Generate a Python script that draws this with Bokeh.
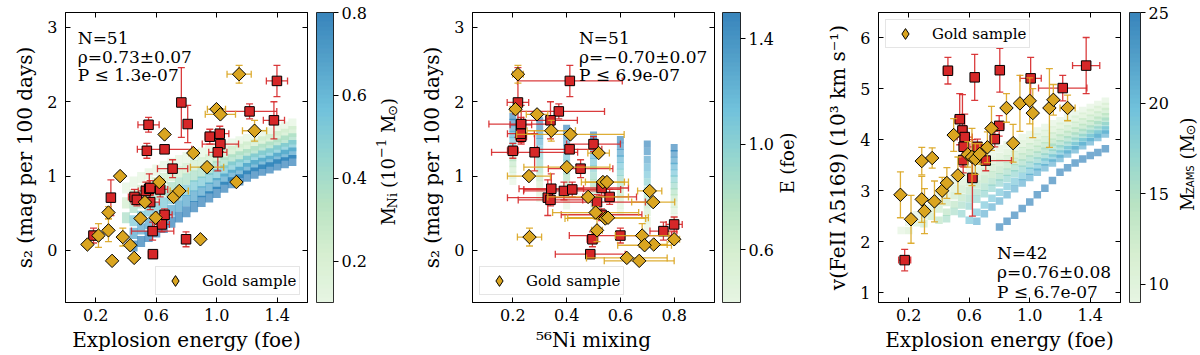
import numpy as np
from bokeh.plotting import figure
from bokeh.models import (ColumnDataSource, LinearColorMapper, ColorBar, LinearAxis, Range1d,
                          FixedTicker, Label, Legend, LegendItem, PrintfTickFormatter)
from bokeh.layouts import row
from bokeh.embed import file_html
from bokeh.resources import INLINE
from bokeh.transform import linear_cmap

# ---------------- data: panels 1 & 2 (N=51) ----------------
gold_energy = [0.145, 0.218, 0.284, 0.284, 0.308, 0.361, 0.379, 0.428, 0.454, 0.496, 0.525, 0.596,
               0.620, 0.655, 0.715, 0.752, 0.845, 0.892, 0.936, 0.998, 1.024, 1.130, 1.148, 1.250]
gold_s2 = [0.08, 0.20, 0.51, 0.27, -0.14, 1.00, 0.18, 0.07, -0.10, 0.43, 0.65, 0.44,
           0.92, 1.56, 0.72, 0.80, 1.31, 0.15, 1.12, 1.90, 1.83, 0.92, 2.37, 1.61]
gold_energy_err = [0.02, 0.03, 0.02, 0.02, 0.02, 0.02, 0.02, 0.02, 0.02, 0.02, 0.02, 0.03,
                   0.03, 0.02, 0.03, 0.06, 0.03, 0.02, 0.11, 0.06, 0.10, 0.02, 0.08, 0.08]
gold_s2_err = [0.03, 0.16, 0.08, 0.15, 0.03, 0.03, 0.12, 0.04, 0.03, 0.03, 0.04, 0.03,
               0.04, 0.04, 0.04, 0.04, 0.03, 0.03, 0.05, 0.04, 0.04, 0.03, 0.12, 0.14]
gold_mixing = [0.724, 0.681, 0.508, 0.513, 0.670, 0.260, 0.262, 0.690, 0.624, 0.544, 0.722, 0.554,
               0.535, 0.414, 0.480, 0.709, 0.519, 0.800, 0.401, 0.210, 0.290, 0.550, 0.219, 0.343]
gold_mixing_err = [0.05, 0.10, 0.16, 0.02, 0.13, 0.08, 0.045, 0.10, 0.15, 0.15, 0.08, 0.15,
                   0.08, 0.20, 0.15, 0.045, 0.04, 0.02, 0.16, 0.02, 0.04, 0.08, 0.02, 0.09]

red_energy = [0.185, 0.300, 0.456, 0.472, 0.531, 0.554, 0.560, 0.549, 0.538, 0.655, 0.626, 0.637, 0.655,
              0.576, 0.578, 0.708, 0.766, 0.808, 0.797, 0.954, 1.020, 1.024, 1.007, 1.217, 1.378, 1.398, 0.560]
red_s2 = [0.20, 0.71, 0.72, 0.68, 0.80, 0.83, 0.65, 1.69, 1.34, 1.36, 0.82, 0.35, 0.48,
          0.26, -0.05, 1.10, 1.99, 1.70, 0.15, 1.53, 1.57, 1.43, 1.32, 1.87, 1.75, 2.28, 0.84]
red_energy_err = [0.03, 0.02, 0.04, 0.04, 0.05, 0.05, 0.06, 0.07, 0.02, 0.18, 0.05, 0.05, 0.05,
                  0.14, 0.03, 0.10, 0.02, 0.02, 0.02, 0.03, 0.06, 0.12, 0.06, 0.18, 0.07, 0.07, 0.04]
red_s2_err = [0.10, 0.24, 0.10, 0.08, 0.12, 0.20, 0.10, 0.10, 0.10, 0.05, 0.10, 0.10, 0.08,
              0.12, 0.04, 0.12, 0.47, 0.25, 0.10, 0.10, 0.10, 0.10, 0.25, 0.10, 0.25, 0.21, 0.10]
red_mixing = [0.600, 0.330, 0.560, 0.340, 0.390, 0.343, 0.513, 0.230, 0.200, 0.411, 0.421, 0.800, 0.530,
              0.760, 0.488, 0.452, 0.219, 0.231, 0.496, 0.231, 0.230, 0.500, 0.281, 0.371, 0.340, 0.412, 0.530]
red_mixing_err = [0.19, 0.15, 0.10, 0.12, 0.15, 0.12, 0.18, 0.04, 0.02, 0.12, 0.18, 0.03, 0.15,
                  0.05, 0.13, 0.12, 0.04, 0.12, 0.02, 0.02, 0.05, 0.10, 0.16, 0.17, 0.10, 0.195, 0.10]

# ---------------- data: panel 3 (N=42) ----------------
vel_gold_energy = [0.145, 0.215, 0.286, 0.355, 0.286, 0.304, 0.370, 0.421, 0.452, 0.525, 0.497, 0.590, 0.618,
                   0.640, 0.669, 0.720, 0.747, 0.846, 0.890, 0.935, 1.000, 1.020, 1.130, 1.156, 1.250]
vel_gold = [2.92, 2.44, 3.58, 3.64, 2.83, 2.60, 2.79, 3.00, 3.15, 3.30, 4.09, 3.71, 3.66,
            3.62, 3.72, 3.85, 4.22, 4.62, 3.93, 4.71, 4.76, 4.52, 4.62, 4.78, 4.62]
vel_gold_energy_err = [0.02, 0.02, 0.02, 0.02, 0.02, 0.02, 0.02, 0.02, 0.02, 0.02, 0.02, 0.02, 0.02,
                       0.02, 0.02, 0.02, 0.02, 0.02, 0.02, 0.02, 0.02, 0.02, 0.02, 0.02, 0.05]
vel_gold_err = [0.45, 0.47, 0.27, 0.20, 0.45, 0.44, 0.40, 0.26, 0.30, 0.36, 0.32, 0.25, 0.56,
                0.30, 0.20, 0.30, 0.43, 0.28, 0.37, 0.55, 0.45, 0.48, 0.77, 0.30, 0.25]

vel_red_energy = [0.173, 0.459, 0.636, 0.802, 1.006, 1.218, 1.373, 0.537, 0.555,
                  0.570, 0.563, 0.654, 0.769, 0.798, 0.621, 0.709, 0.560]
vel_red = [1.64, 5.35, 5.22, 5.36, 5.20, 5.01, 5.45, 4.40, 4.18, 4.05, 3.86, 3.86, 4.01, 4.27, 3.25, 3.59, 3.60]
vel_red_energy_err = [0.04, 0.03, 0.02, 0.02, 0.07, 0.16, 0.09, 0.03, 0.03,
                      0.05, 0.02, 0.05, 0.03, 0.03, 0.03, 0.17, 0.03]
vel_red_err = [0.21, 0.26, 0.45, 0.43, 0.41, 0.25, 0.55, 0.50, 0.70, 0.45, 0.40, 0.15, 0.15, 0.20, 0.75, 0.20, 0.25]

# ---------------- model grids ----------------
grid1_mni = [0.10, 0.24, 0.38, 0.52, 0.66, 0.80]
grid1_energy = [0.40, 0.45, 0.50, 0.55, 0.60, 0.65, 0.70, 0.75, 0.80, 0.85, 0.90, 0.95,
                1.00, 1.05, 1.10, 1.15, 1.20, 1.25, 1.30, 1.35, 1.40, 1.45, 1.50]
grid1_s2 = [
    [0.84, 0.64, 0.44, None, None, None],
    [0.92, 0.75, 0.58, 0.40, 0.23, 0.06],
    [0.98, 0.81, 0.64, 0.46, 0.29, 0.12],
    [1.03, 0.86, 0.69, 0.53, 0.36, 0.19],
    [1.08, 0.91, 0.75, 0.58, 0.42, 0.25],
    [1.13, 0.97, 0.80, 0.64, 0.47, 0.31],
    [1.17, 1.01, 0.85, 0.70, 0.54, 0.38],
    [1.21, 1.06, 0.91, 0.75, 0.60, 0.45],
    [1.25, 1.10, 0.96, 0.81, 0.67, 0.52],
    [1.28, 1.14, 1.00, 0.87, 0.73, 0.59],
    [1.31, 1.18, 1.05, 0.92, 0.79, 0.66],
    [1.34, 1.22, 1.09, 0.97, 0.84, 0.72],
    [1.37, 1.25, 1.13, 1.02, 0.90, 0.78],
    [1.40, 1.29, 1.18, 1.07, 0.96, 0.85],
    [1.43, 1.33, 1.22, 1.12, 1.01, 0.91],
    [1.46, 1.36, 1.26, 1.15, 1.05, 0.95],
    [1.49, 1.39, 1.29, 1.20, 1.10, 1.00],
    [1.52, 1.42, 1.33, 1.23, 1.14, 1.04],
    [1.55, 1.46, 1.36, 1.27, 1.17, 1.08],
    [1.58, 1.49, 1.39, 1.30, 1.20, 1.11],
    [1.62, 1.53, 1.43, 1.34, 1.24, 1.15],
    [1.66, 1.56, 1.47, 1.37, 1.28, 1.18],
    [1.70, 1.60, 1.50, 1.41, 1.31, 1.21],
]
grid2_mixing = [0.2, 0.3, 0.4, 0.5, 0.6, 0.7, 0.8]
grid2_energy = [1.5, 1.4, 1.3, 1.2, 1.1, 1.0, 0.9, 0.8, 0.7, 0.6, 0.5, 0.4]
grid2_s2 = [
    [1.80, 1.72, 1.64, 1.56, 1.48, 1.40, 1.33, 1.25, 1.17, 1.09, 1.01, 0.93],
    [1.74, 1.65, 1.55, 1.46, 1.36, 1.27, 1.17, 1.08, 0.98, 0.89, 0.79, 0.70],
    [1.64, 1.55, 1.45, 1.36, 1.26, 1.17, 1.07, 0.98, 0.88, 0.79, 0.69, 0.60],
    [1.55, 1.46, 1.37, 1.28, 1.19, 1.10, 1.00, 0.91, 0.82, 0.73, 0.64, 0.55],
    [1.49, 1.40, 1.31, 1.23, 1.14, 1.05, 0.96, 0.87, 0.78, 0.70, 0.61, 0.52],
    [1.43, 1.33, 1.22, 1.12, 1.02, 0.92, 0.81, 0.71, 0.61, 0.51, 0.40, 0.30],
    [1.38, 1.30, 1.21, 1.13, 1.04, 0.96, 0.87, 0.79, 0.71, 0.62, 0.54, 0.45],
]
grid3_energy = [0.15, 0.20, 0.25, 0.30, 0.35, 0.40, 0.45, 0.50, 0.55, 0.60, 0.65, 0.70, 0.75, 0.80,
                0.85, 0.90, 0.95, 1.00, 1.05, 1.10, 1.15, 1.20, 1.25, 1.30, 1.35, 1.40, 1.45, 1.50]
grid3_mzams = [9.5, 11.0, 12.5, 14.0, 15.5, 17.0, 19.0, 21.0, 25.0]
N = None
grid3_vel = [
    [2.22, 2.38, 2.53, 2.67, 2.81, 2.95, 3.08, 3.20, 3.32, 3.44, 3.55, 3.64, 3.73, 3.82,
     3.90, 3.97, 4.04, 4.10, 4.17, 4.24, 4.31, 4.37, 4.44, 4.50, 4.57, 4.63, 4.69, 4.75],
    [N, 2.22, 2.37, 2.51, 2.65, 2.79, 2.92, 3.05, 3.17, 3.29, 3.40, 3.49, 3.58, 3.67,
     3.75, 3.83, 3.91, 3.98, 4.05, 4.12, 4.19, 4.26, 4.33, 4.40, 4.46, 4.53, 4.59, 4.65],
    [N, N, N, 2.35, 2.50, 2.64, 2.77, 2.90, 3.03, 3.15, 3.26, 3.36, 3.45, 3.54,
     3.62, 3.70, 3.78, 3.86, 3.93, 4.00, 4.07, 4.14, 4.21, 4.28, 4.35, 4.42, 4.48, 4.55],
    [N, N, N, N, N, 2.42, 2.58, 2.73, 2.87, 3.00, 3.12, 3.22, 3.31, 3.40,
     3.49, 3.57, 3.66, 3.74, 3.81, 3.88, 3.95, 4.03, 4.10, 4.17, 4.24, 4.31, 4.38, 4.45],
    [N, N, N, N, N, N, 2.45, 2.59, 2.72, 2.85, 2.97, 3.07, 3.17, 3.27,
     3.36, 3.45, 3.54, 3.62, 3.70, 3.77, 3.85, 3.92, 4.00, 4.07, 4.14, 4.21, 4.29, 4.36],
    [N, N, N, N, N, N, N, N, 2.55, 2.70, 2.83, 2.94, 3.05, 3.15,
     3.24, 3.33, 3.42, 3.50, 3.58, 3.66, 3.74, 3.82, 3.89, 3.97, 4.04, 4.12, 4.19, 4.27],
    [N, N, N, N, N, N, N, N, N, 2.42, 2.58, 2.72, 2.85, 2.97,
     3.08, 3.18, 3.28, 3.38, 3.47, 3.56, 3.64, 3.72, 3.80, 3.88, 3.96, 4.04, 4.11, 4.19],
    [N, N, N, N, N, N, N, N, N, N, 2.40, 2.55, 2.68, 2.80,
     2.92, 3.04, 3.15, 3.26, 3.36, 3.45, 3.54, 3.63, 3.72, 3.80, 3.88, 3.96, 4.04, 4.11],
    [N, N, N, N, N, N, N, N, N, N, N, N, N, 2.29,
     2.40, 2.52, 2.65, 2.78, 2.92, 3.05, 3.20, 3.36, 3.45, 3.54, 3.62, 3.69, 3.75, 3.82],
]

# ---------------- styling ----------------
SERIF = "DejaVu Serif"
SANS = "DejaVu Sans"
RED = "#d62728"
GOLD = "#daa520"
TICK_FS = "16px"
CB_FS = "16px"
LAB_FS = "20px"
CBT_FS = "18px"
SUB_FS = "13px"
ANN_FS = "17px"
LEG_FS = "15px"
H = 355
FRAME_BOTTOM = 302
FRAME_W = 242
RIGHT_PAD = 6


def make_palette(anchors, n=64):
    rgb = [tuple(int(h[i:i + 2], 16) for i in (1, 3, 5)) for h in anchors]
    out = []
    for k in range(n):
        t = k / (n - 1) * (len(rgb) - 1)
        i = min(int(t), len(rgb) - 2)
        f = t - i
        c = tuple(round(rgb[i][j] * (1 - f) + rgb[i + 1][j] * f) for j in range(3))
        out.append("#%02x%02x%02x" % c)
    return out


PAL = make_palette(["#e0f3db", "#ccebc5", "#a8ddb5", "#7bccc4", "#4eb3d3", "#2b8cbe", "#0868ac"])


def mirror_axis(ticks):
    return LinearAxis(ticker=FixedTicker(ticks=ticks), major_label_overrides={t: "" for t in ticks},
                      major_label_text_font_size="0px", minor_tick_line_color=None,
                      major_label_standoff=0, axis_label_standoff=0, major_tick_in=5, major_tick_out=0,
                      axis_line_color="black", major_tick_line_color="black")


def base_fig(left, xr, yr, xticks, yticks, xlabel, ylabel):
    p = figure(width=left + FRAME_W + RIGHT_PAD, height=H, x_range=Range1d(*xr), y_range=Range1d(*yr),
               output_backend="svg", toolbar_location=None,
               min_border_left=left, min_border_right=RIGHT_PAD, min_border_top=12,
               min_border_bottom=H - FRAME_BOTTOM)
    p.xgrid.visible = False
    p.ygrid.visible = False
    p.outline_line_color = "black"
    p.outline_line_alpha = 1.0
    for ax, ticks in ((p.xaxis[0], xticks), (p.yaxis[0], yticks)):
        ax.ticker = FixedTicker(ticks=ticks)
        ax.major_tick_in = 5
        ax.major_tick_out = 0
        ax.minor_tick_line_color = None
        ax.major_label_text_font = SERIF
        ax.major_label_text_font_size = TICK_FS
        ax.major_label_text_color = "black"
        ax.axis_label_text_font = SERIF
        ax.axis_label_text_font_size = LAB_FS
        ax.axis_label_text_font_style = "normal"
        ax.axis_label_text_color = "black"
        ax.axis_line_color = "black"
        ax.major_tick_line_color = "black"
    p.xaxis.formatter = PrintfTickFormatter(format="%.1f")
    p.xaxis.axis_label = xlabel
    p.yaxis.axis_label = ylabel
    p.xaxis.major_label_standoff = 6
    p.xaxis.axis_label_standoff = 4
    p.yaxis.major_label_standoff = 8
    p.yaxis.axis_label_standoff = 7
    p.add_layout(mirror_axis(xticks), "above")
    p.add_layout(mirror_axis(yticks), "right")
    return p


def errorbars(p, x, y, xerr, yerr, color):
    x = np.asarray(x, float); y = np.asarray(y, float)
    xe = np.asarray(xerr, float); ye = np.asarray(yerr, float)
    src = ColumnDataSource(dict(x=x, y=y, x0=x - xe, x1=x + xe, y0=y - ye, y1=y + ye))
    kw = dict(source=src, line_color=color, line_width=1.3, line_alpha=0.9)
    p.segment(x0="x0", y0="y", x1="x1", y1="y", **kw)
    p.segment(x0="x", y0="y0", x1="x", y1="y1", **kw)
    p.scatter(x="x", y="y0", marker="dash", size=7, **kw)
    p.scatter(x="x", y="y1", marker="dash", size=7, **kw)
    p.scatter(x="x0", y="y", marker="dash", angle=np.pi / 2, size=7, **kw)
    p.scatter(x="x1", y="y", marker="dash", angle=np.pi / 2, size=7, **kw)


def points(p, rx, ry, rxe, rye, gx, gy, gxe, gye):
    errorbars(p, rx, ry, rxe, rye, RED)
    p.scatter(x=rx, y=ry, marker="square", size=9.5, fill_color=RED, line_color="black", line_width=1)
    errorbars(p, gx, gy, gxe, gye, GOLD)
    p.scatter(x=gx, y=gy, marker="square", angle=np.pi / 4, size=9.5, fill_color=GOLD,
              line_color="black", line_width=1)
    # legend key (diamond glyph without visible data)
    proxy = p.scatter(x=[float("nan")], y=[float("nan")], marker="diamond", size=13, fill_color=GOLD,
                      line_color="black", line_width=1)
    return proxy


def add_legend(p, r, loc):
    leg = Legend(items=[LegendItem(label="Gold sample", renderers=[r])], location=loc,
                 label_text_font=SERIF, label_text_font_size=LEG_FS, label_text_color="black",
                 border_line_color="#cccccc", border_line_width=1, background_fill_alpha=0.85,
                 padding=0, margin=7, glyph_width=38, glyph_height=27, label_standoff=8,
                 label_width=97, label_height=20, spacing=0)
    p.add_layout(leg)


def annot(p, x, ys, lines):
    for y, t in zip(ys, lines):
        p.add_layout(Label(x=x, y=y, text=t, text_font=SERIF, text_font_size=ANN_FS,
                           text_color="black", text_align="left", text_baseline="alphabetic"))


def side_fig(page_x0, page_x1, bar_page_x, mapper, ticks, fmt, bar_w, pieces, t_page_x, t_page_y,
             align="left", baseline="alphabetic"):
    width = page_x1 - page_x0
    left = bar_page_x - page_x0
    s = figure(width=width, height=H, x_range=Range1d(0, width - left), y_range=Range1d(0, FRAME_BOTTOM),
               output_backend="svg", toolbar_location=None, x_axis_type=None, y_axis_type=None,
               min_border=0, min_border_left=left, min_border_right=0, min_border_top=0,
               min_border_bottom=H - FRAME_BOTTOM)
    s.xgrid.visible = False
    s.ygrid.visible = False
    s.outline_line_color = None
    cb = ColorBar(color_mapper=mapper, ticker=FixedTicker(ticks=ticks), width=bar_w, height=290,
                  location="bottom_left", padding=0, margin=0, scale_alpha=0.8,
                  formatter=PrintfTickFormatter(format=fmt),
                  major_tick_in=0, major_tick_out=5, major_tick_line_color="black",
                  minor_tick_line_color=None,
                  major_label_text_font=SERIF, major_label_text_font_size=CB_FS,
                  major_label_text_color="black", label_standoff=3,
                  bar_line_color="black", border_line_color=None, background_fill_alpha=0)
    s.add_layout(cb)
    for txt, dy, dx, size, font in pieces:
        s.add_layout(Label(x=t_page_x - bar_page_x, y=FRAME_BOTTOM - t_page_y, x_offset=dx, y_offset=dy,
                           text=txt, angle=np.pi / 2, text_align=align, text_baseline=baseline,
                           text_font=font, text_font_size=size, text_color="black"))
    return s


# ================= panel 1 =================
p1 = base_fig(65, (0.0, 1.6), (-0.70, 3.20), [0.2, 0.6, 1.0, 1.4], [0, 1, 2, 3],
              "Explosion energy (foe)", "s\u2082 (mag per 100 days)")
m1 = LinearColorMapper(palette=PAL, low=0.1, high=0.8)
g1x, g1y, g1c = [], [], []
for e, col in zip(grid1_energy, grid1_s2):
    for m, s in zip(grid1_mni, col):
        if s is not None:
            g1x.append(e); g1y.append(s); g1c.append(m)
p1.rect(x="x", y="y", width=0.053, height=0.15, source=ColumnDataSource(dict(x=g1x, y=g1y, c=g1c)),
        fill_color=linear_cmap("c", PAL, 0.1, 0.8), fill_alpha=0.6, line_color=None)
lg1 = points(p1, red_energy, red_s2, red_energy_err, red_s2_err,
             gold_energy, gold_s2, gold_energy_err, gold_s2_err)
add_legend(p1, lg1, "bottom_right")
annot(p1, 0.081, [2.86, 2.608, 2.353], ["N=51", "\u03c1=0.73\u00b10.07", "P \u2264 1.3e-07"])
x1 = p1.width
s1 = side_fig(x1, 408, 316, m1, [0.2, 0.4, 0.6, 0.8], "%.1f", 17, [
    ("M", 0, 0, CBT_FS, SERIF),
    ("Ni", 17, 4, SUB_FS, SERIF),
    ("(10", 37.5, 0, CBT_FS, SERIF),
    ("\u22121", 67.5, -7, SUB_FS, SERIF),
    ("M", 92.5, 0, CBT_FS, SERIF),
    ("\u2299", 109.5, 4, SUB_FS, SANS),
    (")", 120.5, 0, CBT_FS, SERIF),
], 387.7, 221.7)

# ================= panel 2 =================
p2 = base_fig(64, (0.05, 0.95), (-0.70, 3.20), [0.2, 0.4, 0.6, 0.8], [0, 1, 2, 3],
              "\u2075\u2076Ni mixing", "s\u2082 (mag per 100 days)")
m2 = LinearColorMapper(palette=PAL, low=0.4, high=1.5)
g2x, g2y, g2c = [], [], []
for mx, col in zip(grid2_mixing, grid2_s2):
    for e, s in zip(grid2_energy, col):
        g2x.append(mx); g2y.append(s); g2c.append(e)
p2.rect(x="x", y="y", width=0.026, height=0.1, source=ColumnDataSource(dict(x=g2x, y=g2y, c=g2c)),
        fill_color=linear_cmap("c", PAL, 0.4, 1.5), fill_alpha=0.55, line_color=None)
lg2 = points(p2, red_mixing, red_s2, red_mixing_err, red_s2_err,
             gold_mixing, gold_s2, gold_mixing_err, gold_s2_err)
add_legend(p2, lg2, "bottom_left")
annot(p2, 0.446, [2.86, 2.608, 2.353], ["N=51", "\u03c1=\u22120.70\u00b10.07", "P \u2264 6.9e-07"])
x2 = 408 + p2.width
s2 = side_fig(x2, 808, 722, m2, [0.6, 1.0, 1.4], "%.1f", 18,
              [("E (foe)", 0, 0, CBT_FS, SERIF)], 786.7, 156.7, "center", "middle")

# ================= panel 3 =================
p3 = base_fig(70, (0.0, 1.6), (0.81, 6.49), [0.2, 0.6, 1.0, 1.4], [1, 2, 3, 4, 5, 6],
              "Explosion energy (foe)", "v(FeII \u03bb5169) (10\u00b3 km s\u207b\u00b9)")
m3 = LinearColorMapper(palette=PAL, low=9.0, high=25.0)
g3x, g3y, g3c = [], [], []
for mz, track in zip(grid3_mzams, grid3_vel):
    for e, v in zip(grid3_energy, track):
        if v is not None:
            g3x.append(e); g3y.append(v); g3c.append(mz)
p3.scatter(x="x", y="y", marker="square", size=7.5, source=ColumnDataSource(dict(x=g3x, y=g3y, c=g3c)),
           fill_color=linear_cmap("c", PAL, 9.0, 25.0), fill_alpha=0.55, line_color=None)
lg3 = points(p3, vel_red_energy, vel_red, vel_red_energy_err, vel_red_err,
             vel_gold_energy, vel_gold, vel_gold_energy_err, vel_gold_err)
add_legend(p3, lg3, "top_left")
annot(p3, 0.783, [1.783, 1.404, 1.025], ["N=42", "\u03c1=0.76\u00b10.08", "P \u2264 6.7e-07"])
x3 = 808 + p3.width
s3 = side_fig(x3, 1200, 1129, m3, [10, 15, 20, 25], "%d", 11, [
    ("M", 0, 0, CBT_FS, SERIF),
    ("ZAMS", 17, 3, "10px", SANS),
    ("(M", 51.5, 0, CBT_FS, SERIF),
    ("\u2299", 75.5, 3, SUB_FS, SANS),
    (")", 86.5, 0, CBT_FS, SERIF),
], 1187, 206.7)

layout = row(p1, s1, p2, s2, p3, s3)
open("out.html", "w").write(file_html(layout, INLINE))
